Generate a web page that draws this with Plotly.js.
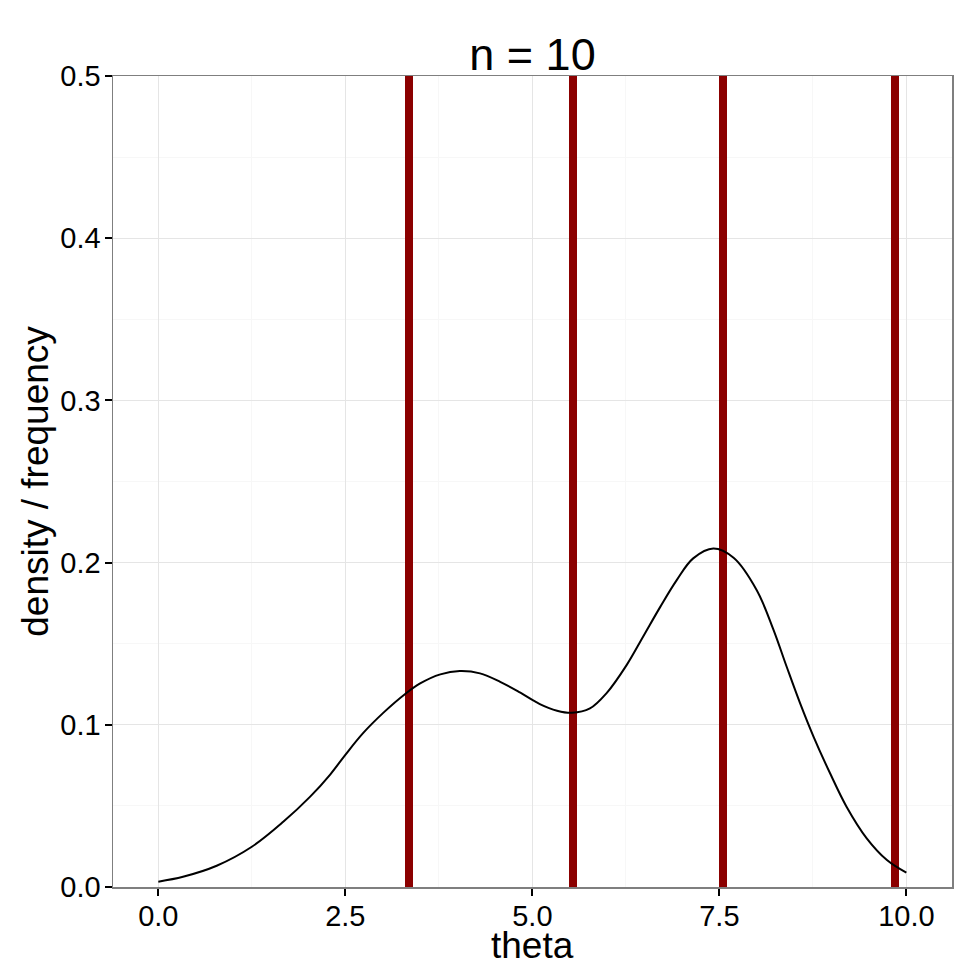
<!DOCTYPE html>
<html>
<head>
<meta charset="utf-8">
<script src="https://cdn.plot.ly/plotly-3.0.1.min.js"></script>
<style>html,body{margin:0;padding:0;background:#fff;}#chart{width:980px;height:980px;}</style>
</head>
<body>
<div id="chart"></div>
<script>
// Density curve
var densityTheta = [0, 0.33, 0.78, 1.25, 1.67, 2.03, 2.30, 2.50, 2.74, 3.01, 3.30, 3.50, 3.77, 4.03, 4.30, 4.57, 4.84, 5.10, 5.33, 5.53, 5.77, 5.99, 6.26, 6.48, 6.71, 6.93, 7.15, 7.42, 7.69, 8.00, 8.22, 8.40, 8.58, 8.76, 8.98, 9.20, 9.47, 9.74, 10.0];
var densityValue = [0.0033, 0.0063, 0.0131, 0.0248, 0.0402, 0.0557, 0.0695, 0.0815, 0.0950, 0.1075, 0.1190, 0.1255, 0.1311, 0.1331, 0.1317, 0.1265, 0.1198, 0.1128, 0.1087, 0.1074, 0.1101, 0.1194, 0.1368, 0.1543, 0.1727, 0.1892, 0.2026, 0.2087, 0.2030, 0.1830, 0.1590, 0.1358, 0.1132, 0.0926, 0.0701, 0.0495, 0.0300, 0.0166, 0.0088];
// Sampled values (frequency bars, extend beyond the top of the panel)
var sampleTheta = [3.35, 5.55, 7.55, 9.85];
var sampleFreq = [1, 1, 1, 1];
// Ticks
var xTicks = [0, 2.5, 5, 7.5, 10];
var xTickLabels = ["0.0", "2.5", "5.0", "7.5", "10.0"];
var yTicks = [0, 0.1, 0.2, 0.3, 0.4, 0.5];
var yTickLabels = ["0.0", "0.1", "0.2", "0.3", "0.4", "0.5"];
var xTitle = "theta";
var yTitle = "density / frequency";
var chartTitle = "n = 10";

var FONT = "Liberation Sans, Arial, Helvetica, sans-serif";

var traces = [
  {
    type: "bar",
    x: sampleTheta,
    y: sampleFreq,
    width: 0.107,
    marker: {color: "#8b0000", line: {width: 0}},
    hoverinfo: "skip",
    showlegend: false
  },
  {
    type: "scatter",
    mode: "lines",
    x: densityTheta,
    y: densityValue,
    line: {color: "#000000", width: 2, shape: "spline", smoothing: 1},
    showlegend: false
  }
];

var layout = {
  width: 980,
  height: 980,
  margin: {l: 113, r: 28, t: 76, b: 93, pad: 0},
  paper_bgcolor: "#ffffff",
  plot_bgcolor: "#ffffff",
  font: {family: FONT, color: "#000000"},
  showlegend: false,
  title: {
    text: chartTitle,
    font: {family: FONT, size: 45, color: "#000000"},
    x: 0.5, xref: "paper", xanchor: "center",
    y: 1, yref: "paper", yanchor: "bottom",
    pad: {b: 6}
  },
  xaxis: {
    range: [-0.606, 10.61],
    tickvals: xTicks,
    ticktext: xTickLabels,
    ticks: "outside",
    ticklen: 7,
    tickwidth: 2,
    tickcolor: "#000000",
    ticklabelstandoff: -4,
    tickfont: {family: FONT, size: 29, color: "#000000"},
    showgrid: true,
    gridcolor: "#e5e5e5",
    gridwidth: 1,
    minor: {dtick: 1.25, tick0: 0, showgrid: true, gridcolor: "#f7f7f7", gridwidth: 1, ticks: ""},
    zeroline: false,
    showline: true,
    linecolor: "#7f7f7f",
    linewidth: 1.5,
    mirror: true,
    automargin: false
  },
  yaxis: {
    range: [0, 0.5],
    tickvals: yTicks,
    ticktext: yTickLabels,
    ticks: "outside",
    ticklen: 7,
    tickwidth: 2,
    tickcolor: "#000000",
    ticklabelstandoff: -2,
    tickfont: {family: FONT, size: 29, color: "#000000"},
    showgrid: true,
    gridcolor: "#e5e5e5",
    gridwidth: 1,
    minor: {dtick: 0.05, tick0: 0, showgrid: true, gridcolor: "#f7f7f7", gridwidth: 1, ticks: ""},
    zeroline: false,
    showline: true,
    linecolor: "#7f7f7f",
    linewidth: 1.5,
    mirror: true,
    automargin: false,
    title: {text: yTitle, font: {family: FONT, size: 37, color: "#000000"}, standoff: 0}
  },
  annotations: [
    {
      text: xTitle,
      xref: "paper", yref: "paper",
      x: 0.5, y: -0.0727,
      xanchor: "center", yanchor: "middle",
      showarrow: false,
      font: {family: FONT, size: 37, color: "#000000"}
    }
  ],
  bargap: 0
};

Plotly.newPlot("chart", traces, layout, {displayModeBar: false, staticPlot: true});
</script>
</body>
</html>
